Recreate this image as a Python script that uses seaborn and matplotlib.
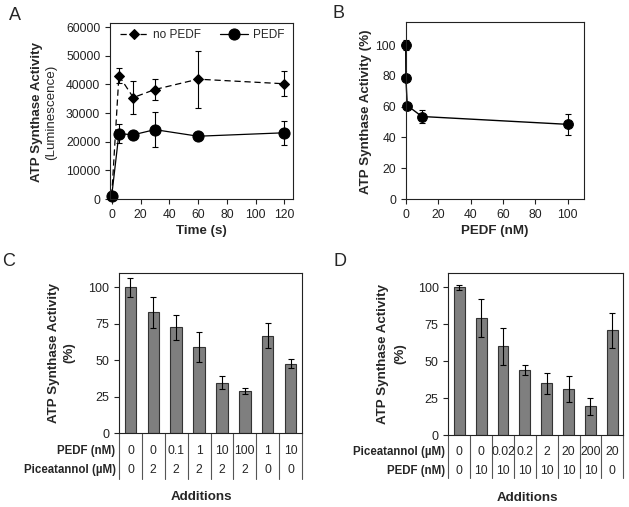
import matplotlib
matplotlib.use('Agg')
from matplotlib import pyplot as plt
import pandas as pd
import seaborn as sns

# Panel A: ATP synthase activity over time
time_s = [0, 5, 15, 30, 60, 120]
no_pedf = [1200, 43000, 35400, 38200, 41800, 40200]
no_pedf_err = [300, 2700, 5600, 3500, 10000, 4400]
pedf = [1200, 22800, 22400, 24200, 21900, 23100]
pedf_err = [300, 3300, 1400, 6000, 400, 4200]

# Panel B: dose response to PEDF
pedf_nm = [0, 0.1, 1, 10, 100]
activity_b = [100, 78.5, 60.7, 53.6, 48.5]
activity_b_err = [3, 0.5, 1.5, 4.3, 7]

# Panel C
c_pedf = ['0', '0', '0.1', '1', '10', '100', '1', '10']
c_picea = ['0', '2', '2', '2', '2', '2', '0', '0']
c_vals = [100, 82.8, 72.5, 58.8, 34.5, 28.8, 66.8, 47.6]
c_err = [6.6, 10.5, 8.6, 10.3, 4.4, 1.8, 8.5, 3.3]

# Panel D
d_picea = ['0', '0', '0.02', '0.2', '2', '20', '200', '20']
d_pedf = ['0', '10', '10', '10', '10', '10', '10', '0']
d_vals = [100, 79.5, 60.0, 43.8, 35.0, 31.2, 19.6, 71.0]
d_err = [2.0, 13.0, 12.5, 3.4, 7.2, 8.5, 5.8, 12.0]

sns.set_style('ticks')
plt.rcParams['font.family'] = ['Liberation Sans', 'DejaVu Sans']
plt.rcParams['axes.linewidth'] = 0.8
plt.rcParams['axes.edgecolor'] = '#222222'
plt.rcParams['xtick.major.size'] = 3.5
plt.rcParams['ytick.major.size'] = 3.5
plt.rcParams['xtick.major.width'] = 0.8
plt.rcParams['ytick.major.width'] = 0.8

W, H = 629, 507
fig = plt.figure(figsize=(W / 100, H / 100), dpi=100)


def box(l, t, r, b):
    return [l / W, 1 - b / H, (r - l) / W, (b - t) / H]


TICK = 8.7
LAB = 9.6

# ---------- A ----------
axA = fig.add_axes(box(110, 23, 293, 199))
dfA = pd.DataFrame({
    'time': time_s * 2,
    'lum': no_pedf + pedf,
    'cond': ['no PEDF'] * 6 + ['PEDF'] * 6,
})
sns.lineplot(data=dfA, x='time', y='lum', hue='cond', style='cond',
             palette={'no PEDF': 'black', 'PEDF': 'black'},
             markers={'no PEDF': 'D', 'PEDF': 'o'},
             dashes={'no PEDF': (5, 3), 'PEDF': ''},
             markersize=7, markeredgecolor='black', lw=0.9, ax=axA)
for ln in axA.lines:
    if ln.get_marker() == 'D':
        ln.set_markersize(5)
    elif ln.get_marker() == 'o':
        ln.set_markersize(8)
    ln.set_clip_on(False)
axA.errorbar(time_s, no_pedf, yerr=no_pedf_err, fmt='none', ecolor='black',
             elinewidth=0.8, capsize=2.5, capthick=0.8, clip_on=False)
axA.errorbar(time_s, pedf, yerr=pedf_err, fmt='none', ecolor='black',
             elinewidth=0.8, capsize=2.5, capthick=0.8, clip_on=False)
axA.set_xlim(-1.2, 126)
axA.set_ylim(0, 61400)
axA.set_xticks(range(0, 121, 20))
axA.set_yticks(range(0, 60001, 10000))
axA.tick_params(labelsize=TICK, colors='#222222')
axA.set_xlabel('Time (s)', fontsize=LAB, fontweight='bold', labelpad=3)
axA.set_ylabel('')
leg = axA.legend(loc='center', ncol=2, frameon=False, fontsize=8.5,
                 handlelength=2.4, columnspacing=1.6, handletextpad=0.4,
                 bbox_to_anchor=(0.505, 0.93))
fig.text(37 / W, 1 - 112 / H, 'ATP Synthase Activity', rotation=90,
         fontsize=LAB, fontweight='bold', ha='center', va='center')
fig.text(51 / W, 1 - 112 / H, '(Luminescence)', rotation=90,
         fontsize=LAB, ha='center', va='center')

# ---------- B ----------
axB = fig.add_axes(box(405.7, 22, 584, 199))
dfB = pd.DataFrame({'pedf': pedf_nm, 'act': activity_b})
sns.lineplot(data=dfB, x='pedf', y='act', color='black', marker='o',
             markersize=7, markeredgecolor='black', lw=1.0, ax=axB)
for ln in axB.lines:
    ln.set_clip_on(False)
axB.errorbar(pedf_nm, activity_b, yerr=activity_b_err, fmt='none',
             ecolor='black', elinewidth=0.8, capsize=2.5, capthick=0.8,
             clip_on=False)
axB.set_xlim(0, 110)
axB.set_ylim(0, 115)
axB.set_xticks(range(0, 101, 20))
axB.set_yticks(range(0, 101, 20))
axB.tick_params(labelsize=TICK, colors='#222222')
axB.set_xlabel('PEDF (nM)', fontsize=LAB, fontweight='bold', labelpad=3)
axB.set_ylabel('')
fig.text(366 / W, 1 - 112 / H, 'ATP Synthase Activity (%)', rotation=90,
         fontsize=LAB, fontweight='bold', ha='center', va='center')


# ---------- C and D ----------
def bar_panel(ax, vals, errs, row1, row2, name1, name2, ys, line_end, add_y,
              ylab_x, fig_top, fig_bot):
    df = pd.DataFrame({'cond': list(range(len(vals))), 'val': vals})
    sns.barplot(data=df, x='cond', y='val', color='#7f7f7f',
                edgecolor='#333333', linewidth=0.8, width=0.5, saturation=1,
                ax=ax)
    ax.errorbar(range(len(vals)), vals, yerr=errs, fmt='none',
                ecolor='black', elinewidth=0.8, capsize=2.5, capthick=0.8)
    ax.set_xlim(-0.5, len(vals) - 0.5)
    ax.set_ylim(0, 110)
    ax.set_yticks([0, 25, 50, 75, 100])
    ax.tick_params(axis='y', labelsize=TICK + 0.3, colors='#222222')
    ax.set_xticks([])
    ax.set_xlabel('')
    ax.set_ylabel('')
    tr = ax.get_xaxis_transform()
    for i in range(len(vals)):
        ax.text(i, ys[0], row1[i], transform=tr, ha='center', va='center',
                fontsize=TICK)
        ax.text(i, ys[1], row2[i], transform=tr, ha='center', va='center',
                fontsize=TICK)
    for k in range(len(vals) + 1):
        ax.plot([k - 0.5, k - 0.5], [0, line_end], transform=tr,
                color='#555555', lw=0.8, clip_on=False)
    ax.text(-0.65, ys[0], name1, transform=tr, ha='right', va='center',
            fontsize=8.3, fontweight='bold')
    ax.text(-0.65, ys[1], name2, transform=tr, ha='right', va='center',
            fontsize=8.3, fontweight='bold')
    ax.text(len(vals) / 2 - 0.5 - 0.4, add_y, 'Additions', transform=tr,
            ha='center', va='center', fontsize=LAB, fontweight='bold')
    mid = 1 - (fig_top + fig_bot) / 2 / H
    fig.text(ylab_x[0] / W, mid, 'ATP Synthase Activity', rotation=90,
             fontsize=LAB, fontweight='bold', ha='center', va='center')
    fig.text(ylab_x[1] / W, mid, '(%)', rotation=90,
             fontsize=LAB, fontweight='bold', ha='center', va='center')


axC = fig.add_axes(box(119, 272.7, 302, 433))
bar_panel(axC, c_vals, c_err, c_pedf, c_picea, 'PEDF (nM)',
          'Piceatannol (\u00b5M)', (-0.112, -0.231), -0.29, -0.40,
          (54, 69), 272.7, 433)

axD = fig.add_axes(box(448.3, 272.7, 623.3, 435))
bar_panel(axD, d_vals, d_err, d_picea, d_pedf, 'Piceatannol (\u00b5M)',
          'PEDF (nM)', (-0.103, -0.22), -0.265, -0.39,
          (383, 400), 272.7, 435)

# panel letters
for letter, x, y in [('A', 15, 16), ('B', 339, 14), ('C', 9, 262),
                     ('D', 340, 262)]:
    fig.text(x / W, 1 - y / H, letter, fontsize=13, ha='center', va='center')

fig.savefig('out.png', dpi=100)
